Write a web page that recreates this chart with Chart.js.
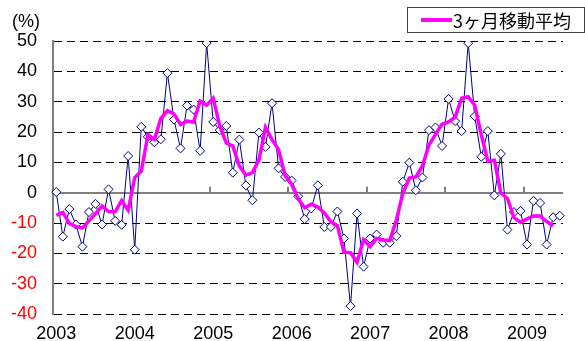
<!DOCTYPE html>
<html>
<head>
<meta charset="utf-8">
<script src="https://cdn.jsdelivr.net/npm/chart.js@4.4.1/dist/chart.umd.min.js"></script>
<style>
  html, body { margin: 0; padding: 0; background: #fff; }
  #wrap { position: relative; width: 585px; height: 341px; overflow: hidden; background: #fff; }
  #c { position: absolute; left: 0; top: 0; }
  #unit { position: absolute; left: 12px; top: 12px; font: 18px "Liberation Sans Narrow", "Liberation Sans", sans-serif; line-height: 18px; color: #000; }
  #legend { position: absolute; left: 407px; top: 7px; width: 176px; height: 24px; border: 1px solid #404040; background: #fff; }
  #legend .swatch { position: absolute; left: 13px; top: 10px; width: 31px; height: 4px; background: #ff00ff; }
  #legend .text { position: absolute; left: 45px; top: 0; height: 24px; line-height: 24px; font-size: 18px; font-family: "Noto Sans CJK JP", sans-serif; color: #000; white-space: nowrap; }
</style>
</head>
<body>
<div id="wrap">
  <canvas id="c" width="585" height="341"></canvas>
  <div id="unit">(%)</div>
  <div id="legend"><div class="swatch"></div><div class="text">3ヶ月移動平均</div></div>
</div>
<script>
// Year labels, one per January
const yearLabels = ['2003', '2004', '2005', '2006', '2007', '2008', '2009'];

// Monthly year-on-year change (%), Jan 2003 - Jun 2009
const yoyChange = [
  0.2, -14.5, -5.4, -10.5, -17.8, -6.4, -3.7, -10.5, 1.1, -9.3, -10.6, 12.1,
  -18.8, 21.7, 18.4, 16.6, 17.6, 39.4, 24.1, 14.6, 28.7, 27.4, 13.8, 49.3,
  23.3, 20.6, 22.0, 6.6, 17.5, 2.4, -2.5, 19.8, 15.1, 29.5, 8.0, 5.2,
  4.0, -1.2, -8.7, -5.2, 2.4, -11.3, -11.3, -6.2, -15.1, -37.4, -6.9, -24.4,
  -15.1, -13.8, -16.5, -16.5, -14.3, 3.6, 9.9, 0.8, 5.0, 20.6, 21.5, 15.4,
  30.9, 23.6, 20.3, 49.3, 25.2, 11.8, 20.3, -0.9, 12.8, -12.2, -6.4, -6.0,
  -17.1, -2.7, -3.4, -17.1, -8.1, -7.6
];

// 3-month moving average (%), centred on each month
const movingAvg = [
  -7.5, -6.5, -10.1, -11.2, -11.6, -9.3, -6.9, -4.4, -6.2, -6.3, -2.6, -5.8,
  5.0, 7.1, 18.9, 17.5, 24.5, 27.0, 26.0, 22.5, 23.6, 23.3, 30.2, 28.8,
  31.1, 22.0, 16.4, 15.4, 8.8, 5.8, 6.6, 10.8, 21.5, 17.5, 14.2, 5.7,
  2.7, -2.0, -5.0, -3.8, -4.7, -6.7, -9.6, -10.9, -19.6, -19.8, -22.9, -15.5,
  -17.8, -15.1, -15.6, -15.8, -9.1, -0.3, 4.8, 5.2, 8.8, 15.7, 19.2, 22.6,
  23.3, 24.9, 31.1, 31.6, 28.8, 19.1, 10.4, 10.7, -0.1, -1.9, -8.2, -9.8,
  -8.6, -7.7, -7.7, -9.5, -10.9, null
];

// Category labels: the year under each January, blank otherwise
const categories = yoyChange.map((_, i) => (i % 12 === 0 ? yearLabels[i / 12] : ''));

const axisFont = { family: '"Liberation Sans Narrow", "Liberation Sans", sans-serif', size: 18 };

// Short year-boundary tick marks sitting on the zero line
const yearTicks = {
  id: 'yearTicks',
  beforeDatasetsDraw(chart) {
    const xs = chart.scales.x, ys = chart.scales.y, ctx = chart.ctx;
    const y0 = ys.getPixelForValue(0);
    ctx.save();
    ctx.strokeStyle = '#808080';
    ctx.lineWidth = 2;
    ctx.beginPath();
    for (let i = 12; i < categories.length; i += 12) {
      const x = Math.round((xs.getPixelForValue(i - 1) + xs.getPixelForValue(i)) / 2);
      ctx.moveTo(x, y0 - 6);
      ctx.lineTo(x, y0);
    }
    ctx.stroke();
    ctx.restore();
  }
};

new Chart(document.getElementById('c'), {
  type: 'line',
  data: {
    labels: categories,
    datasets: [
      {
        label: '3ヶ月移動平均',
        data: movingAvg,
        borderColor: '#ff00ff',
        borderWidth: 3.5,
        pointRadius: 0,
        tension: 0,
        order: 0
      },
      {
        label: '前年同月比',
        data: yoyChange,
        borderColor: '#000080',
        borderWidth: 1,
        pointStyle: 'rectRot',
        pointRadius: 4.5,
        pointBackgroundColor: '#ffffff',
        pointBorderColor: '#000080',
        pointBorderWidth: 1,
        tension: 0,
        order: 1
      }
    ]
  },
  options: {
    responsive: false,
    animation: false,
    devicePixelRatio: 1,
    events: [],
    layout: { padding: { top: 41, right: 22, bottom: 0, left: 0 } },
    plugins: { legend: { display: false }, tooltip: { enabled: false } },
    scales: {
      x: {
        type: 'category',
        offset: true,
        grid: { display: false, drawTicks: false },
        border: { display: false },
        ticks: { autoSkip: false, maxRotation: 0, minRotation: 0, padding: 9, color: '#000', font: axisFont },
        afterFit(scale) { scale.height = 27; }
      },
      y: {
        min: -40,
        max: 50,
        ticks: {
          stepSize: 10,
          padding: 16,
          font: axisFont,
          color: (ctx) => (ctx.tick && ctx.tick.value < 0 ? '#ff0000' : '#000000')
        },
        grid: {
          drawTicks: false,
          color: (ctx) => (ctx.tick && ctx.tick.value === 0 ? '#808080' : '#000000'),
          lineWidth: (ctx) => (ctx.tick && ctx.tick.value === 0 ? 2 : 1)
        },
        border: {
          display: true,
          color: '#808080',
          width: 2,
          dash: (ctx) => (ctx.tick && ctx.tick.value === 0 ? [] : [8, 5])
        },
        afterFit(scale) { scale.width = 53; }
      }
    }
  },
  plugins: [yearTicks]
});
</script>
</body>
</html>
